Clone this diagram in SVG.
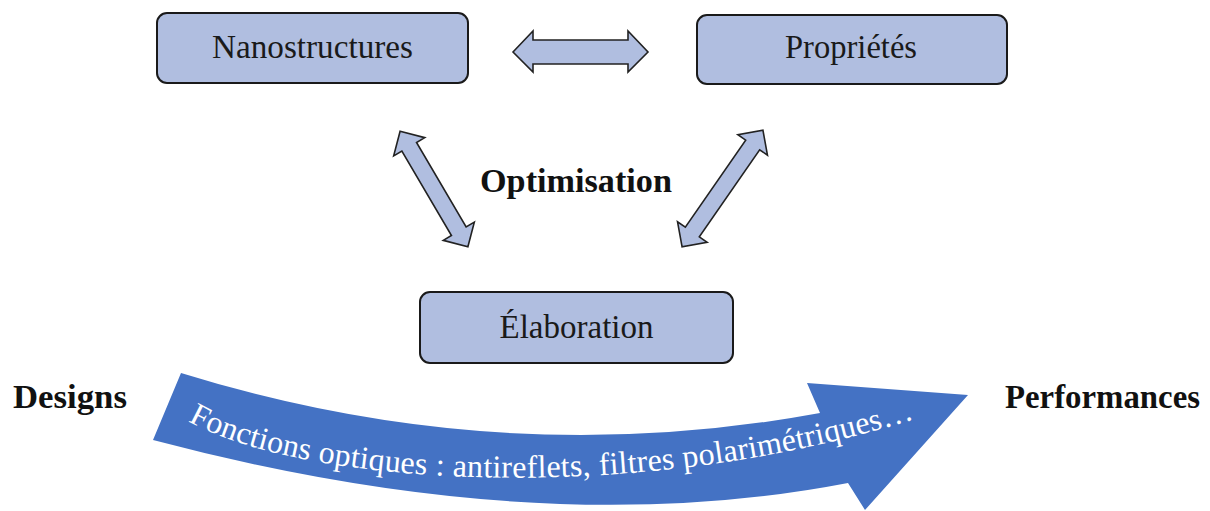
<svg xmlns="http://www.w3.org/2000/svg" width="1210" height="511" viewBox="0 0 1210 511">
<style>
.box{fill:#B0BEE0;stroke:#1a1a1a;stroke-width:2}
.arr{fill:#B0BEE0;stroke:#222;stroke-width:1.6;stroke-linejoin:miter}
.lbl{font-family:"Liberation Serif","Times New Roman",serif;font-size:33px;fill:#1a1a1a;text-anchor:middle}
.bold{font-family:"Liberation Serif","Times New Roman",serif;font-size:34px;font-weight:bold;fill:#111}
.band{font-family:"Liberation Serif","Times New Roman",serif;font-size:32px;fill:#fff}
</style>
<defs>
<path id="tp" d="M188,421 C300,485 640,510 930,414"/>
</defs>
<rect width="1210" height="511" fill="#fff"/>
<g id="nanostructures">
<rect class="box" x="157" y="13" width="311" height="70" rx="10"/>
<text class="lbl" x="312.5" y="58" textLength="201" lengthAdjust="spacingAndGlyphs">Nanostructures</text>
</g>
<g id="proprietes">
<rect class="box" x="697" y="15" width="310" height="69" rx="10"/>
<text class="lbl" x="851" y="58" textLength="132" lengthAdjust="spacingAndGlyphs">Propriétés</text>
</g>
<g id="elaboration">
<rect class="box" x="420" y="292" width="313" height="71" rx="10"/>
<text class="lbl" x="576.5" y="338" textLength="154" lengthAdjust="spacingAndGlyphs">Élaboration</text>
</g>
<g id="connectors">
<polygon class="arr" points="513,52 533,31 533,40 628,40 628,31 648,52 628,72 628,64 533,64 533,72"/>
<polygon class="arr" transform="translate(434,189) rotate(59.6)" points="-67,0 -49,-18 -49,-8.5 49,-8.5 49,-18 67,0 49,18 49,8.5 -49,8.5 -49,18"/>
<polygon class="arr" transform="translate(722.5,188.5) rotate(124.7)" points="-71,0 -53,-18 -53,-8.5 53,-8.5 53,-18 71,0 53,18 53,8.5 -53,8.5 -53,18"/>
</g>
<g id="optimisation">
<text class="bold" x="480" y="192" textLength="192" lengthAdjust="spacingAndGlyphs">Optimisation</text>
</g>
<g id="designs">
<text class="bold" x="13" y="408" textLength="114" lengthAdjust="spacingAndGlyphs">Designs</text>
</g>
<g id="performances">
<text class="bold" x="1005" y="408" textLength="195" lengthAdjust="spacingAndGlyphs">Performances</text>
</g>
<g id="fonctions">
<path d="M181,373 Q500,472 820,413 L807,383 L968,395 L865,510 L848,483 Q540,542.5 153,440 Z" fill="#4472C4"/>
<text class="band"><textPath href="#tp" textLength="740" lengthAdjust="spacing">Fonctions optiques : antireflets, filtres polarimétriques…</textPath></text>
</g>
</svg>
